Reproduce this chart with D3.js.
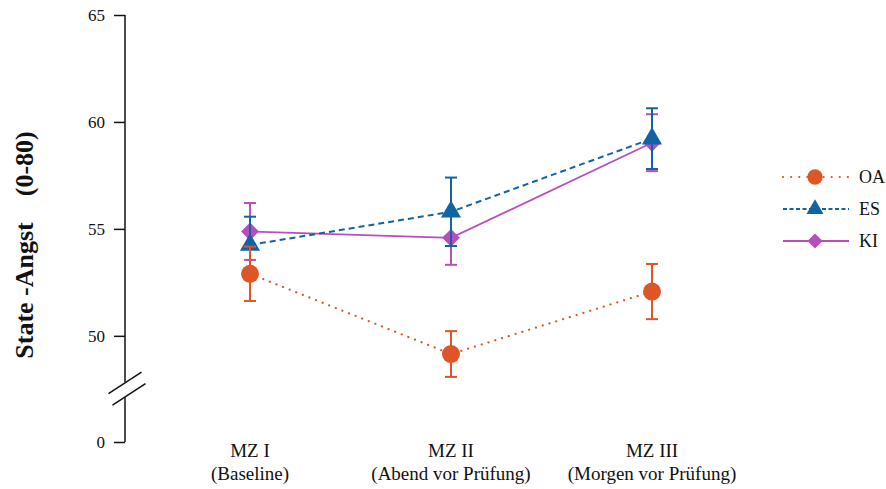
<!DOCTYPE html>
<meta charset="utf-8">
<style>
    body { margin: 0; background: #fff; }
    svg { display: block; }
    .tick text, .lab, .legend text { font-family: "Liberation Serif", "Times New Roman", serif; fill: #111; }
    .ytitle { font-family: "Liberation Serif", "Times New Roman", serif; font-weight: bold; font-size: 26px; white-space: pre; fill: #111; }
</style>
<svg width="886" height="489"></svg>
<script src="https://cdnjs.cloudflare.com/ajax/libs/d3/7.8.5/d3.min.js"></script>
<script>

    // time points
    var categories = ["MZ I", "MZ II", "MZ III"];
    var subLabels = ["(Baseline)", "(Abend vor Prüfung)", "(Morgen vor Prüfung)"];

    // State-Angst means and error bars per group
    var oaMean = [52.9, 49.15, 52.07];
    var oaErr = [1.27, 1.07, 1.29];
    var esMean = [54.25, 55.8, 59.22];
    var esErr = [1.32, 1.6, 1.42];
    var kiMean = [54.88, 54.58, 59.03];
    var kiErr = [1.33, 1.26, 1.33];

    var yTicks = [0, 50, 55, 60, 65];
    var breakAt = 47.5;

    var svg = d3.select("svg");

    var x = d3.scalePoint().domain(categories).range([250, 652]);
    // broken axis: 0..47 squeezed, 47..65 full scale
    var y = d3.scaleLinear().domain([0, 47, 65]).range([442, 400, 15]);

    var series = [
        {name: "OA", mean: oaMean, err: oaErr, color: "#DE5628", dash: "0.1,7", cap: "round", width: 2.2, shape: "circle"},
        {name: "ES", mean: esMean, err: esErr, color: "#1064A6", dash: "6,4", cap: "butt", width: 2, shape: "triangle"},
        {name: "KI", mean: kiMean, err: kiErr, color: "#B94DBE", dash: null, cap: "butt", width: 1.8, shape: "diamond"}
    ];

    function marker(sel, s, scale) {
        var path;
        if (s.shape === "circle") {
            sel.append("circle").attr("r", 9 * scale).attr("fill", s.color);
            return;
        }
        if (s.shape === "triangle") {
            path = d3.symbol().type(d3.symbolTriangle).size(175 * scale * scale)();
            sel.append("path").attr("d", path).attr("fill", s.color);
        } else {
            path = d3.symbol().type(d3.symbolSquare).size(160 * scale * scale)();
            sel.append("path").attr("d", path).attr("transform", "rotate(45)").attr("fill", s.color);
        }
    }

    // y axis
    var yAxis = d3.axisLeft(y).tickValues(yTicks).tickSize(11).tickPadding(9);
    var ga = svg.append("g").attr("transform", "translate(125,0)").call(yAxis);
    ga.select(".domain").remove();
    ga.selectAll(".tick line").attr("stroke", "#111").attr("stroke-width", 1.5);
    ga.selectAll(".tick text").style("font-size", "17px");

    var yb = y(breakAt);
    svg.append("line").attr("x1", 125).attr("x2", 125).attr("y1", y(65)).attr("y2", yb - 7)
        .attr("stroke", "#111").attr("stroke-width", 1.5);
    svg.append("line").attr("x1", 125).attr("x2", 125).attr("y1", yb + 8).attr("y2", y(0))
        .attr("stroke", "#111").attr("stroke-width", 1.5);
    [[125, yb - 6.5], [129, yb + 5]].forEach(function (c) {
        svg.append("line")
            .attr("x1", c[0] - 16.5).attr("y1", c[1] + 10.7)
            .attr("x2", c[0] + 16.5).attr("y2", c[1] - 10.7)
            .attr("stroke", "#111").attr("stroke-width", 1.5);
    });

    // y title
    svg.append("text").attr("class", "ytitle")
        .attr("transform", "translate(33,245) rotate(-90)")
        .attr("text-anchor", "middle")
        .text("State -Angst    (0-80)");

    // x labels
    categories.forEach(function (c, i) {
        svg.append("text").attr("class", "lab").attr("x", x(c)).attr("y", 457)
            .attr("text-anchor", "middle").style("font-size", "19px").text(c);
        svg.append("text").attr("class", "lab").attr("x", x(c)).attr("y", 480)
            .attr("text-anchor", "middle").style("font-size", "19px").text(subLabels[i]);
    });

    // series, drawn KI first so OA ends on top
    var line = d3.line().x(function (d) { return x(d.c); }).y(function (d) { return y(d.v); });

    series.slice().reverse().forEach(function (s) {
        var pts = categories.map(function (c, i) { return {c: c, v: s.mean[i], e: s.err[i]}; });
        var g = svg.append("g");
        g.append("path").attr("d", line(pts)).attr("fill", "none")
            .attr("stroke", s.color).attr("stroke-width", s.width)
            .attr("stroke-dasharray", s.dash).attr("stroke-linecap", s.cap);
        pts.forEach(function (p) {
            var m = g.append("g").attr("transform", "translate(" + x(p.c) + "," + y(p.v) + ")");
            marker(m, s, 1);
        });
        pts.forEach(function (p) {
            var cx = x(p.c), t = y(p.v + p.e), b = y(p.v - p.e);
            g.append("line").attr("x1", cx).attr("x2", cx).attr("y1", t).attr("y2", b)
                .attr("stroke", s.color).attr("stroke-width", 2);
            [t, b].forEach(function (yy) {
                g.append("line").attr("x1", cx - 6).attr("x2", cx + 6).attr("y1", yy).attr("y2", yy)
                    .attr("stroke", s.color).attr("stroke-width", 2);
            });
        });
    });

    // legend
    var lg = svg.append("g").attr("class", "legend");
    series.forEach(function (s, i) {
        var yy = 177 + i * 32;
        lg.append("line").attr("x1", 783).attr("x2", 849).attr("y1", yy).attr("y2", yy)
            .attr("stroke", s.color).attr("stroke-width", s.width)
            .attr("stroke-dasharray", s.shape === "circle" ? "0.1,8" : (s.dash ? "4,2.5" : null))
            .attr("stroke-linecap", s.cap);
        var m = lg.append("g").attr("transform", "translate(815," + yy + ")");
        marker(m, s, 0.85);
        lg.append("text").attr("x", 859).attr("y", yy + 6).style("font-size", "18px").text(s.name);
    });

</script>
